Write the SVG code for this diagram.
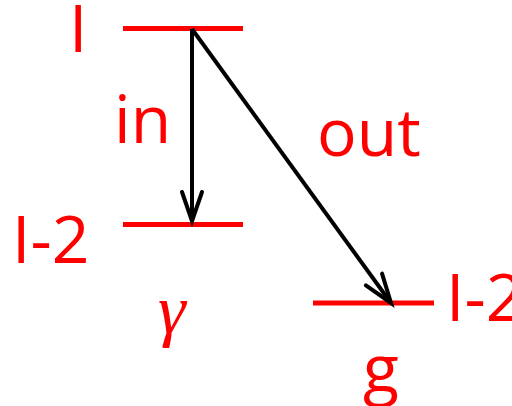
<svg xmlns="http://www.w3.org/2000/svg" width="512" height="406" viewBox="0 0 512 406">
<defs>
<style>
.lvl{stroke:#ff0000;stroke-width:5;fill:none}
.lbl{fill:#ff0000;font-family:"Open Sans","Noto Sans",sans-serif;font-size:66px}
.greek{fill:#ff0000;font-family:"Liberation Serif",serif;font-style:italic;font-size:70px}
.arr{stroke:#000;stroke-width:4;fill:none;marker-end:url(#ah)}
</style>
<marker id="ah" markerUnits="userSpaceOnUse" markerWidth="40" markerHeight="30" refX="0" refY="0" viewBox="-32 -15 36 30" orient="auto" overflow="visible">
<path d="M-29,-10 L0,0 L-29,10" stroke="#000" stroke-width="4" fill="none" stroke-linecap="round" stroke-linejoin="miter"/>
</marker>
</defs>
<g id="level-l">
<line class="lvl" x1="123" y1="28.5" x2="243" y2="28.5"/>
<text class="lbl" x="69" y="52">I</text>
</g>
<g id="level-l2-gamma">
<line class="lvl" x1="123" y1="224.5" x2="243" y2="224.5"/>
<text class="lbl" x="12" y="263">I-2</text>
<text class="greek" x="158" y="333">γ</text>
</g>
<g id="level-l2-g">
<line class="lvl" x1="313" y1="303" x2="434" y2="303"/>
<text class="lbl" x="446" y="321">I-2</text>
<text class="lbl" x="363" y="392">g</text>
</g>
<g id="labels">
<text class="lbl" x="114" y="143">in</text>
<text class="lbl" x="317" y="156">out</text>
</g>
<g id="connectors">
<line class="arr" x1="192" y1="29" x2="192" y2="221"/>
<line class="arr" x1="192" y1="29" x2="391" y2="303"/>
</g>
</svg>
